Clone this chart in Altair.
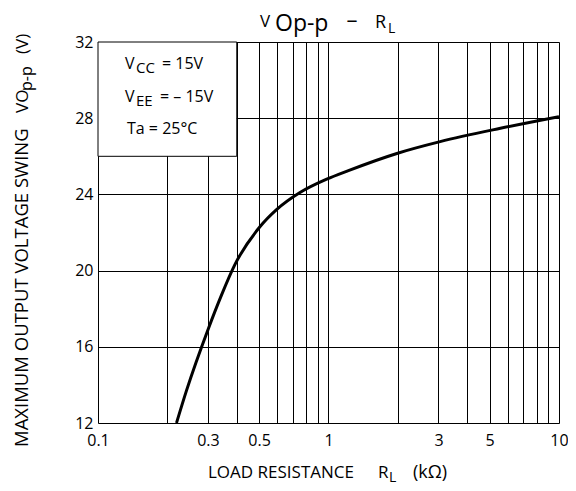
import altair as alt
import pandas as pd

# Curve data (load resistance in kOhm, max output swing in V)
rl_kohm = [0.219, 0.242, 0.300, 0.343, 0.392, 0.504, 0.595, 0.752, 0.982, 1.22, 1.98, 3.05, 5.57, 10.0]
vopp = [12.0, 13.7, 16.9, 18.7, 20.3, 22.3, 23.2, 24.1, 24.8, 25.25, 26.15, 26.77, 27.47, 28.08]

# Grid / tick values
x_grid = [0.1, 0.2, 0.3, 0.4, 0.5, 0.6, 0.7, 0.8, 0.9, 1, 2, 3, 4, 5, 6, 7, 8, 9, 10]
x_labels = [0.1, 0.3, 0.5, 1, 3, 5, 10]
y_grid = [12, 14, 16, 18, 20, 22, 24, 26, 28, 30, 32]
y_labels = [12, 16, 20, 24, 28, 32]

# Condition box extent
box_x = [0.1, 0.4]
box_y = [26, 32]

FONT = "Open Sans"

curve_df = pd.DataFrame({"rl": rl_kohm, "v": vopp})
box_df = pd.DataFrame({"x": [box_x[0]], "x2": [box_x[1]], "y": [box_y[0]], "y2": [box_y[1]]})

xscale = alt.Scale(type="log", domain=[0.1, 10], nice=False)
yscale = alt.Scale(domain=[12, 32], nice=False)

x_label_str = "[" + ",".join(str(v) for v in x_labels) + "]"
y_label_str = "[" + ",".join(str(v) for v in y_labels) + "]"

xaxis = alt.Axis(
    values=x_grid, grid=True, gridColor="black", gridWidth=1, gridOpacity=1,
    ticks=False, domain=False, title=None,
    labelExpr=f"indexof({x_label_str}, datum.value) >= 0 ? format(datum.value, '~g') : ''",
    labelFont=FONT, labelFontSize=16, labelColor="black", labelPadding=9,
    labelFlush=False, labelOverlap=False,
)
yaxis = alt.Axis(
    values=y_grid, grid=True, gridColor="black", gridWidth=1, gridOpacity=1,
    ticks=False, domain=False, title=None,
    labelExpr=f"indexof({y_label_str}, datum.value) >= 0 ? datum.label : ''",
    labelFont=FONT, labelFontSize=16, labelColor="black", labelPadding=5,
    labelOverlap=False,
)

base_curve = alt.Chart(curve_df).mark_line(
    color="black", strokeWidth=3, interpolate="monotone", clip=True
).encode(
    x=alt.X("rl:Q", scale=xscale, axis=xaxis),
    y=alt.Y("v:Q", scale=yscale, axis=yaxis),
)

box = alt.Chart(box_df).mark_rect(fill="white", stroke="black", strokeWidth=1).encode(
    x=alt.X("x:Q", scale=xscale),
    x2="x2:Q",
    y=alt.Y("y:Q", scale=yscale),
    y2="y2:Q",
)


def txt(s, x, y, size, angle=0, align="left", weight="normal"):
    return alt.Chart(pd.DataFrame({"a": [0]})).mark_text(
        text=s, font=FONT, fontSize=size, align=align, baseline="alphabetic",
        angle=angle, color="black", fontWeight=weight,
    ).encode(x=alt.value(x), y=alt.value(y))


texts = [
    # title
    txt("V", 162, -15, 17),
    txt("Op-p", 177, -11, 23),
    txt("\u2013", 254, -15, 22, align="center"),
    txt("R", 277, -14, 18),
    txt("L", 290, -9, 14),
    # condition box
    txt("V", 27, 27, 16),
    txt("CC", 38, 31, 15),
    txt("= 15V", 64, 27, 16),
    txt("V", 27, 60, 16),
    txt("EE", 38, 64, 15),
    txt("= \u2013 15V", 62, 60, 16),
    txt("Ta = 25\u00b0C", 29, 92, 16),
    # x axis title
    txt("LOAD RESISTANCE", 110, 436, 17),
    txt("R", 280, 436, 17),
    txt("L", 291, 440, 14),
    txt("(k\u03a9)", 315, 436, 18),
    # y axis title (rotated)
    txt("MAXIMUM OUTPUT VOLTAGE SWING", -70, 405, 18.5, angle=270),
    txt("VO", -70, 71, 17, angle=270),
    txt("p-p", -66, 49, 16, angle=270),
    txt("(V)", -70, 12, 17, angle=270),
]

chart = alt.layer(box, base_curve, *texts).properties(
    width=461,
    height=381,
    autosize=alt.AutoSizeParams(type="none"),
    padding={"left": 90, "top": 34, "right": 9, "bottom": 59},
).configure_view(stroke="black", strokeWidth=2).configure(background="white")

chart.save("out.html", embed_options={"renderer": "svg", "actions": False})
